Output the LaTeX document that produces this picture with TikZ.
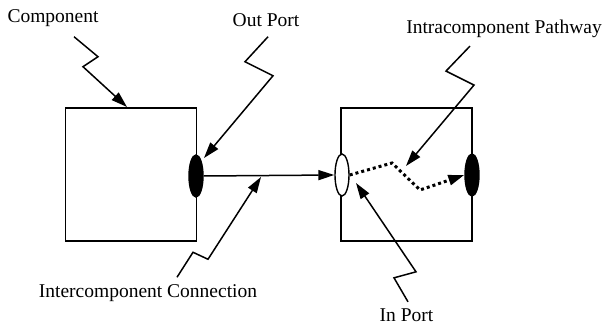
\documentclass[tikz,border=0pt]{standalone}
\usepackage{fontspec}
\setmainfont{Liberation Serif}
\usetikzlibrary{arrows.meta,shapes.geometric}
\begin{document}
\begin{tikzpicture}[x=1pt,y=-1pt,
  lbl/.style={font=\fontsize{19.5}{22}\selectfont, inner sep=0pt},
  compbox/.style={draw, line width=1.6pt, rectangle, minimum width=131pt, minimum height=133pt, inner sep=0pt},
  portfull/.style={draw, fill=black, line width=1.4pt, ellipse, minimum width=14pt, minimum height=42pt, inner sep=0pt},
  portopen/.style={draw, fill=white, line width=1.4pt, ellipse, minimum width=14pt, minimum height=42pt, inner sep=0pt},
  tip/.style={-{Triangle[length=16pt,width=10pt]}},
  callout/.style={line width=1.5pt, tip, line join=miter},
  conn/.style={line width=1.5pt, tip},
  pathway/.style={line width=3pt, dash pattern=on 3pt off 3pt, tip}]
\useasboundingbox (0,0) rectangle (605,326);
% components
\node[compbox] (lbox) at (131,174.5) {};
\node[compbox] (rbox) at (406.5,174.5) {};
% ports
\node[portfull] (outp) at (196,176) {};
\node[portopen] (inp) at (342,175) {};
\node[portfull] (outr) at (472,175) {};
% labels
\node[lbl] (tcomp) at (53,18) {Component};
\node[lbl] (tout) at (266,20) {Out Port};
\node[lbl] (tintra) at (504,29) {Intracomponent Pathway};
\node[lbl] (tinter) at (148,293) {Intercomponent Connection};
\node[lbl] (tin) at (406.5,315) {In Port};
% connection and pathway
\draw[conn] (outp.east) -- (inp.west);
\coordinate (pw1) at (392,163);
\coordinate (pw2) at (420,190);
\draw[pathway] (inp.east) -- (pw1) -- (pw2) -- (outr.west);
% callout targets
\coordinate (acomp) at (127,107);
\coordinate (aout) at (204,158);
\coordinate (aintra) at (406,166);
\coordinate (ainter) at (261,177);
\coordinate (ain) at (356,183);
% callouts
\draw[callout] ([xshift=21pt,yshift=-10pt]tcomp.south) -- ++(24,20) -- ++(-15,10) -- (acomp);
\draw[callout] ([xshift=2pt,yshift=-10pt]tout.south) -- ++(-23,25) -- ++(28,14) -- (aout);
\draw[callout] ([xshift=-34pt,yshift=-8pt]tintra.south) -- ++(-24,25) -- ++(28,14) -- (aintra);
\draw[callout] ([xshift=29pt,yshift=7pt]tinter.north) -- ++(16,-25) -- ++(15,7) -- (ainter);
\draw[callout] ([xshift=1.5pt,yshift=6.5pt]tin.north) -- ++(-14,-24) -- ++(22,-6) -- (ain);
\end{tikzpicture}
\end{document}
